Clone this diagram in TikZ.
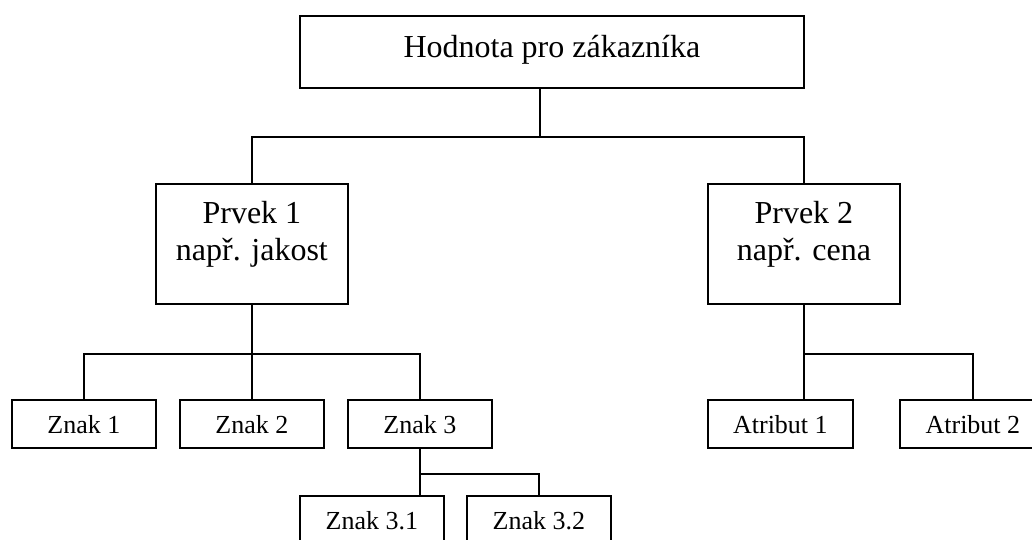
\documentclass[tikz,border=0pt]{standalone}
\usepackage{fontspec}
\setmainfont{Liberation Serif}
\begin{document}
\begin{tikzpicture}[x=1pt,y=-1pt,
  box/.style={draw,line width=1.8pt,inner sep=0pt,anchor=north west,align=center},
  bigbox/.style={box,font=\fontsize{32}{37}\selectfont},
  smallbox/.style={box,font=\fontsize{26}{30}\selectfont,minimum width=144pt,text height=34pt,text depth=14pt},
  wire/.style={line width=1.8pt}]
\useasboundingbox (0,0) rectangle (1032,540);
\clip (0,0) rectangle (1032,540);

% root
\node[bigbox,minimum width=504pt,text height=42pt,text depth=30pt] (root) at (299,15) {Hodnota pro zákazníka};

% elements (two-line boxes: height measured to the last baseline)
\node[bigbox,minimum width=192pt,text height=77pt,text depth=43pt] (p1) at (155,183) {Prvek 1\\např. jakost};
\node[bigbox,minimum width=192pt,text height=77pt,text depth=43pt] (p2) at (707,183) {Prvek 2\\např. cena};

% features of element 1
\node[smallbox] (z1) at (11,399) {Znak 1};
\node[smallbox] (z2) at (179,399) {Znak 2};
\node[smallbox] (z3) at (347,399) {Znak 3};
\node[smallbox] (z31) at (299,495) {Znak 3.1};
\node[smallbox] (z32) at (466,495) {Znak 3.2};

% attributes of element 2
\node[smallbox,minimum width=145pt] (a1) at (707,399) {Atribut 1};
\node[smallbox,minimum width=146pt] (a2) at (899,399) {Atribut 2};

% connectors
\draw[wire] ([xshift=-12pt]root.south) -- ++(0,48) coordinate (j0);
\draw[wire] (p1.north) |- (j0) -| (p2.north);

\draw[wire] (p1.south) -- ++(0,49) coordinate (j1);
\draw[wire] (z1.north) |- (j1) -| (z3.north);
\draw[wire] (j1) -- (z2.north);

\draw[wire] (p2.south) -- ++(0,49) coordinate (j2);
\draw[wire] (j2) -| (a2.north);
\draw[wire] (j2) -- (a1.north -| j2);

\draw[wire] (z3.south) -- ++(0,25) coordinate (j3);
\draw[wire] (j3) -- (z31.north -| j3);
\draw[wire] (j3) -| (z32.north);
\end{tikzpicture}
\end{document}
